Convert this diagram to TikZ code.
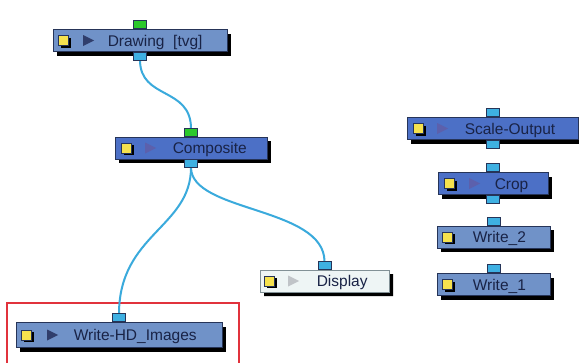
\documentclass[tikz,border=0pt]{standalone}
\usepackage{fontspec}
\setmainfont{Liberation Sans}
\usepackage{tikz}
\usetikzlibrary{shapes.geometric, shapes.misc, shadows, positioning, calc}
\definecolor{nodeedge}{RGB}{38,52,88}
\definecolor{nodetext}{RGB}{25,35,70}
\definecolor{palefill}{RGB}{112,146,200}
\definecolor{deepfill}{RGB}{76,112,198}
\definecolor{dispfill}{RGB}{238,245,245}
\definecolor{dispedge}{RGB}{130,145,150}
\definecolor{portblue}{RGB}{62,176,226}
\definecolor{portgreen}{RGB}{44,200,44}
\definecolor{wireblue}{RGB}{58,170,220}
\definecolor{sqyellow}{RGB}{246,226,78}
\definecolor{tridark}{RGB}{48,62,108}
\definecolor{tripurple}{RGB}{92,96,172}
\definecolor{trigray}{RGB}{192,196,200}
\definecolor{selred}{RGB}{225,50,60}
\tikzset{
  fxbox/.style={rectangle, draw=nodeedge, line width=0.9pt, inner sep=0pt,
    minimum height=22pt,
    drop shadow={shadow xshift=4pt, shadow yshift=-4pt, opacity=1, fill=black}},
  palebox/.style={fxbox, fill=palefill},
  deepbox/.style={fxbox, fill=deepfill},
  dispbox/.style={chamfered rectangle, chamfered rectangle corners=north east,
    chamfered rectangle xsep=6pt, draw=dispedge, fill=dispfill, line width=0.9pt,
    inner sep=0pt, minimum height=22pt,
    drop shadow={shadow xshift=4pt, shadow yshift=-4pt, opacity=1, fill=black}},
  ysq/.style={rectangle, fill=sqyellow, draw=nodeedge, line width=0.5pt,
    minimum size=10pt, inner sep=0pt,
    drop shadow={shadow xshift=2pt, shadow yshift=-2pt, opacity=1, fill=black}},
  playtri/.style={isosceles triangle, isosceles triangle stretches, inner sep=0pt,
    minimum width=11pt, minimum height=11pt},
  lbl/.style={anchor=west, inner sep=0pt, text=nodetext, text height=11.5pt,
    text depth=0.5pt, font=\fontsize{15.5}{17}\selectfont},
  port/.style={rectangle, draw=nodeedge, line width=0.8pt, fill=portblue,
    minimum width=13pt, minimum height=8pt, inner sep=0pt},
  gport/.style={port, fill=portgreen},
  wire/.style={draw=wireblue, line width=2pt},
  selframe/.style={draw=selred, line width=1.2pt}
}

\begin{document}
\begin{tikzpicture}[x=1pt, y=-1pt]

  \fill[white] (0,0) rectangle (579,362);
  \useasboundingbox (0,0) rectangle (579,362);

  % selection frame
  \draw[selframe] (7,370) -- (7,303) -- (239,303) -- (239,370);

  % network nodes
  \node[palebox, minimum width=174pt] (drw) at (140,40.5) {};
  \node[deepbox, minimum width=152pt] (comp) at (191,148) {};
  \node[dispbox, minimum width=129pt] (disp) at (324.5,281) {};
  \node[palebox, minimum width=206pt, minimum height=25pt] (whd) at (119,335) {};
  \node[deepbox, minimum width=171pt] (scale) at (492.5,128.5) {};
  \node[deepbox, minimum width=110pt] (crop) at (493,183.5) {};
  \node[palebox, minimum width=113pt] (wtwo) at (493.5,237) {};
  \node[palebox, minimum width=113pt] (wone) at (493.5,284.5) {};

  % enable squares and play arrows
  \node[ysq] (drw-sq) at ([xshift=11pt]drw.west) {};
  \node[playtri, fill=tridark] (drw-tri) at ([xshift=34pt]drw.west) {};
  \node[ysq] (comp-sq) at ([xshift=12pt]comp.west) {};
  \node[playtri, fill=tripurple] (comp-tri) at ([xshift=34pt]comp.west) {};
  \node[ysq] (disp-sq) at ([xshift=10pt]disp.west) {};
  \node[playtri, fill=trigray] (disp-tri) at ([xshift=32pt]disp.west) {};
  \node[ysq] (whd-sq) at ([xshift=11pt]whd.west) {};
  \node[playtri, fill=tridark] (whd-tri) at ([xshift=35pt]whd.west) {};
  \node[ysq] (scale-sq) at ([xshift=12pt]scale.west) {};
  \node[playtri, fill=tripurple] (scale-tri) at ([xshift=34pt]scale.west) {};
  \node[ysq] (crop-sq) at ([xshift=12pt]crop.west) {};
  \node[playtri, fill=tripurple] (crop-tri) at ([xshift=35pt]crop.west) {};
  \node[ysq] (wtwo-sq) at ([xshift=11pt]wtwo.west) {};
  \node[ysq] (wone-sq) at ([xshift=11pt]wone.west) {};

  % labels
  \node[lbl] (drw-l) at ([xshift=55pt]drw.west) {Drawing\ \ [tvg]};
  \node[lbl] (comp-l) at ([xshift=58pt]comp.west) {Composite};
  \node[lbl] (disp-l) at ([xshift=57pt]disp.west) {Display};
  \node[lbl] (whd-l) at ([xshift=58pt]whd.west) {Write-HD\_Images};
  \node[lbl] (scale-l) at ([xshift=58pt]scale.west) {Scale-Output};
  \node[lbl] (crop-l) at ([xshift=57pt]crop.west) {Crop};
  \node[lbl] (wtwo-l) at ([xshift=36pt]wtwo.west) {Write\_2};
  \node[lbl] (wone-l) at ([xshift=36pt]wone.west) {Write\_1};

  % wires (drawn before ports)
  \coordinate (drw-o) at ([yshift=-8pt]drw.south);
  \coordinate (comp-i) at ([yshift=8pt]comp.north);
  \coordinate (comp-o) at ([yshift=-8pt]comp.south);
  \coordinate (disp-i) at ([yshift=8pt]disp.north);
  \coordinate (whd-i) at ([yshift=8pt]whd.north);
  \draw[wire] (drw-o) .. controls +(0,40) and +(0,-42) .. (comp-i);
  \draw[wire] (comp-o) .. controls +(0,60) and +(0,-80) .. (whd-i);
  \draw[wire] (comp-o) .. controls +(0,45) and +(0,-55) .. (disp-i);

  % ports
  \node[gport, anchor=south] (drw-in) at (drw.north) {};
  \node[port, anchor=north] (drw-out) at (drw.south) {};
  \node[gport, anchor=south] (comp-in) at (comp.north) {};
  \node[port, anchor=north] (comp-out) at (comp.south) {};
  \node[port, anchor=south] (disp-in) at (disp.north) {};
  \node[port, anchor=south] (whd-in) at (whd.north) {};
  \node[port, anchor=south] (scale-in) at (scale.north) {};
  \node[port, anchor=north] (scale-out) at (scale.south) {};
  \node[port, anchor=south] (crop-in) at (crop.north) {};
  \node[port, anchor=north] (crop-out) at (crop.south) {};
  \node[port, anchor=south] (wtwo-in) at (wtwo.north) {};
  \node[port, anchor=south] (wone-in) at (wone.north) {};

\end{tikzpicture}
\end{document}
